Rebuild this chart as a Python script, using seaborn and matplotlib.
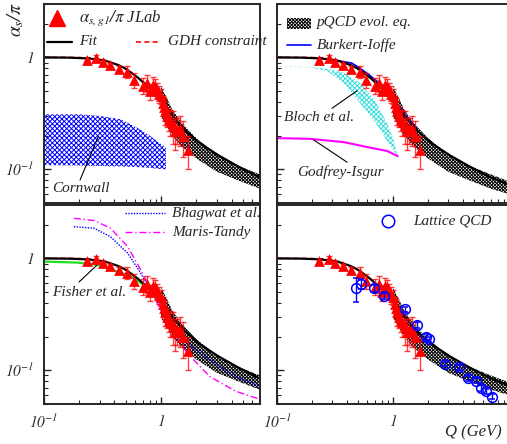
import numpy as np
import pandas as pd
import matplotlib
matplotlib.use("Agg")
import matplotlib.pyplot as plt
from matplotlib.patches import Rectangle
from matplotlib.ticker import LogLocator, NullFormatter
import seaborn as sns

# JLab alpha_s,g1 / pi
jlab_q = [0.232, 0.279, 0.318, 0.368, 0.434, 0.516, 0.589, 0.704, 0.76, 0.80, 0.855, 0.883,
          0.92, 0.96, 1.00, 1.03, 1.06, 1.08, 1.12, 1.16, 1.20, 1.27, 1.31, 1.38, 1.45, 1.55, 1.71]
jlab_a = [0.94, 0.99, 0.91, 0.86, 0.79, 0.74, 0.63, 0.56, 0.59, 0.50, 0.57, 0.55,
          0.51, 0.47, 0.45, 0.39, 0.36, 0.33, 0.30, 0.28, 0.27, 0.25, 0.22, 0.23, 0.23, 0.20, 0.15]
jlab_err = [0.02, 0.05, 0.03, 0.04, 0.05, 0.09, 0.10, 0.09, 0.10, 0.08, 0.10, 0.09,
            0.08, 0.08, 0.07, 0.06, 0.07, 0.08, 0.06, 0.06, 0.07, 0.08, 0.07, 0.06, 0.07, 0.07, 0.05]

# fit
fit_q = [0.1, 0.16, 0.236, 0.329, 0.428, 0.49, 0.559, 0.637, 0.727, 0.83, 0.947, 1.08,
         1.236, 1.41, 1.61, 2.09, 2.55, 3.1, 4.64, 6.9, 10.0]
fit_a = [1.0, 0.995, 0.98, 0.94, 0.857, 0.80, 0.727, 0.656, 0.58, 0.505, 0.432, 0.367,
         0.307, 0.26, 0.222, 0.175, 0.152, 0.133, 0.105, 0.085, 0.073]

# GDH constraint
gdh_q = [0.1, 0.18, 0.25]
gdh_a = [1.0, 1.0, 0.99]

# pQCD evolution band
pqcd_q = [1.0, 1.1, 1.25, 1.5, 2.0, 3.0, 4.5, 7.0, 10.0]
pqcd_lo = [0.30, 0.25, 0.20, 0.16, 0.125, 0.095, 0.08, 0.067, 0.06]
pqcd_hi = [0.55, 0.45, 0.34, 0.26, 0.19, 0.135, 0.108, 0.09, 0.078]

# Cornwall band
corn_q = [0.1, 0.2, 0.3, 0.45, 0.58, 0.7, 0.81, 0.95, 1.1]
corn_hi = [0.31, 0.31, 0.30, 0.28, 0.245, 0.22, 0.198, 0.175, 0.157]
corn_lo = [0.109, 0.108, 0.107, 0.106, 0.105, 0.104, 0.103, 0.101, 0.100]

# Bloch et al. band
bloch_q = [0.1, 0.194, 0.27, 0.376, 0.52, 0.69, 0.887, 1.0, 1.1]
bloch_hi = [0.836, 0.82, 0.79, 0.73, 0.59, 0.42, 0.26, 0.19, 0.13]
bloch_lo = [0.83, 0.815, 0.755, 0.59, 0.39, 0.27, 0.18, 0.15, 0.13]

# Godfrey-Isgur
gi_q = [0.1, 0.194, 0.376, 0.637, 0.887, 1.1]
gi_a = [0.19, 0.187, 0.175, 0.156, 0.146, 0.131]

# Burkert-Ioffe
bi_q = [0.3, 0.44, 0.52, 0.62, 0.73, 0.83, 1.0, 1.3, 1.6]
bi_a = [0.95, 0.89, 0.80, 0.70, 0.61, 0.53, 0.43, 0.30, 0.23]

# Fisher et al.
fi_q = [0.1, 0.193, 0.286, 0.425, 0.588, 0.82, 1.03]
fi_a = [0.936, 0.917, 0.875, 0.76, 0.665, 0.52, 0.426]

# Bhagwat et al.
bh_q = [0.18, 0.268, 0.37, 0.52, 0.67, 0.87, 1.12, 1.68, 2.6, 4.34, 7.0]
bh_a = [1.92, 1.86, 1.56, 1.11, 0.74, 0.456, 0.30, 0.175, 0.124, 0.088, 0.072]

# Maris-Tandy
mt_q = [0.18, 0.268, 0.37, 0.52, 0.67, 0.87, 1.12, 1.68, 2.6, 4.34, 7.0]
mt_a = [2.28, 2.18, 1.86, 1.27, 0.79, 0.456, 0.27, 0.142, 0.088, 0.065, 0.055]

# Lattice QCD
lat_q = [0.48, 0.533, 0.682, 0.84, 1.276, 1.61, 1.92, 2.03, 2.83, 3.68, 4.43, 5.22, 5.74, 6.37, 7.13]
lat_a = [0.54, 0.59, 0.54, 0.46, 0.35, 0.255, 0.20, 0.19, 0.115, 0.106, 0.085, 0.081, 0.07, 0.065, 0.058]
lat_err = [0.13, 0.06, 0.04, 0.03, 0.02, 0.015, 0.012, 0.01, 0.006, 0.005, 0.004, 0.004, 0.004, 0.003, 0.003]

sns.set_style("ticks")
plt.rcParams["font.family"] = ["Liberation Serif", "DejaVu Serif"]
plt.rcParams["font.style"] = "italic"
plt.rcParams["mathtext.fontset"] = "stix"
plt.rcParams["hatch.linewidth"] = 0.7

FS = 11
fig = plt.figure(figsize=(5.07, 4.44), dpi=100)
ax_tl = fig.add_axes([0.0868, 0.5428, 0.426, 0.4482])
ax_tr = fig.add_axes([0.5464, 0.5428, 0.4576, 0.4482])
ax_bl = fig.add_axes([0.0868, 0.0901, 0.426, 0.4482])
ax_br = fig.add_axes([0.5464, 0.0901, 0.4576, 0.4482])


def style(ax, xmax, xlab, ylab):
    ax.set_xscale("log")
    ax.set_yscale("log")
    ax.set_xlim(0.1, xmax)
    ax.set_ylim(0.05, 3.0)
    ax.set_xticks([0.1, 1])
    ax.set_yticks([0.1, 1])
    ax.xaxis.set_minor_locator(LogLocator(subs=np.arange(2, 10)))
    ax.yaxis.set_minor_locator(LogLocator(subs=np.arange(2, 10)))
    ax.xaxis.set_minor_formatter(NullFormatter())
    ax.yaxis.set_minor_formatter(NullFormatter())
    ax.set_xticklabels([r"$\mathit{10^{-1}}$", r"$\mathit{1}$"] if xlab else [])
    ax.set_yticklabels([r"$\mathit{10^{-1}}$", r"$\mathit{1}$"] if ylab else [])
    ax.tick_params(which="major", direction="in", length=5, width=1, labelsize=FS, pad=7)
    ax.tick_params(which="minor", direction="in", length=3, width=0.8)
    for s in ax.spines.values():
        s.set_linewidth(1.4)
    ax.set_xlabel("")
    ax.set_ylabel("")


def band(ax, q, lo, hi, color, hatch="xxxxxx"):
    ax.fill_between(q, lo, hi, facecolor="none", edgecolor=color, hatch=hatch, linewidth=0)


def line(ax, q, a, color, lw=1.2, ls="-"):
    sns.lineplot(x=q, y=a, ax=ax, color=color, lw=lw, linestyle=ls, sort=False,
                 estimator=None)


def common(ax):
    band(ax, pqcd_q, pqcd_lo, pqcd_hi, "black", "xxxxxxxxxx")
    line(ax, gdh_q, gdh_a, "red", 1.2, (0, (3, 2)))
    line(ax, fit_q, fit_a, "black", 1.6)
    ax.errorbar(jlab_q, jlab_a, yerr=jlab_err, fmt="none", ecolor="red", alpha=0.75,
                elinewidth=1, capsize=2.5)
    sns.scatterplot(x=jlab_q, y=jlab_a, ax=ax, marker="^", color="red", s=60,
                    edgecolor="red", linewidth=0, zorder=5)


def pointer(ax, p0, p1):
    ax.plot([p0[0], p1[0]], [p0[1], p1[1]], color="black", lw=0.8, transform=ax.transAxes)


# top left
band(ax_tl, corn_q, corn_lo, corn_hi, "blue", "xxxxxxx")
common(ax_tl)
style(ax_tl, 7.0, False, True)
ax_tl.plot([0.06], [0.93], marker="^", ms=11, color="red", transform=ax_tl.transAxes)
ax_tl.text(0.162, 0.93, r"$\alpha_{s,g1}/\pi$ JLab", transform=ax_tl.transAxes,
           fontsize=FS + 1, va="center")
ax_tl.plot([0.014, 0.13], [0.81, 0.81], color="black", lw=1.6, transform=ax_tl.transAxes)
ax_tl.text(0.162, 0.81, "Fit", transform=ax_tl.transAxes, fontsize=FS, va="center")
ax_tl.plot([0.426, 0.542], [0.81, 0.81], color="red", lw=1.2, ls=(0, (3, 2)),
           transform=ax_tl.transAxes)
ax_tl.text(0.574, 0.81, "GDH constraint", transform=ax_tl.transAxes, fontsize=FS, va="center")
ax_tl.text(0.037, 0.075, "Cornwall", transform=ax_tl.transAxes, fontsize=FS, va="center")
pointer(ax_tl, (0.167, 0.116), (0.251, 0.333))

# top right
band(ax_tr, bloch_q, bloch_lo, bloch_hi, "#33dddd", "xxxxxxx")
line(ax_tr, gi_q, gi_a, "magenta", 1.5)
line(ax_tr, bi_q, bi_a, "blue", 1.2)
common(ax_tr)
style(ax_tr, 10.0, False, False)
ax_tr.add_patch(Rectangle((0.043, 0.874), 0.104, 0.056, transform=ax_tr.transAxes,
                          facecolor="none", edgecolor="black", hatch="xxxxxxxxxx", lw=0))
ax_tr.text(0.172, 0.905, "pQCD evol. eq.", transform=ax_tr.transAxes, fontsize=FS, va="center")
ax_tr.plot([0.043, 0.147], [0.795, 0.795], color="blue", lw=1.2, transform=ax_tr.transAxes)
ax_tr.text(0.172, 0.795, "Burkert-Ioffe", transform=ax_tr.transAxes, fontsize=FS, va="center")
ax_tr.text(0.03, 0.432, "Bloch et al.", transform=ax_tr.transAxes, fontsize=FS, va="center")
pointer(ax_tr, (0.237, 0.476), (0.345, 0.564))
ax_tr.text(0.086, 0.156, "Godfrey-Isgur", transform=ax_tr.transAxes, fontsize=FS, va="center")
pointer(ax_tr, (0.158, 0.317), (0.302, 0.205))

# bottom left
line(ax_bl, fi_q, fi_a, "#22dd22", 1.6)
line(ax_bl, bh_q, bh_a, "blue", 1.0, (0, (1, 1)))
line(ax_bl, mt_q, mt_a, "magenta", 1.0, (0, (5, 2, 1, 2)))
common(ax_bl)
style(ax_bl, 7.0, True, True)
ax_bl.plot([0.375, 0.56], [0.958, 0.958], color="blue", lw=1.0, ls=(0, (1, 1)),
           transform=ax_bl.transAxes)
ax_bl.text(0.593, 0.958, "Bhagwat et al.", transform=ax_bl.transAxes, fontsize=FS, va="center")
ax_bl.plot([0.375, 0.56], [0.863, 0.863], color="magenta", lw=1.0, ls=(0, (5, 2, 1, 2)),
           transform=ax_bl.transAxes)
ax_bl.text(0.593, 0.863, "Maris-Tandy", transform=ax_bl.transAxes, fontsize=FS, va="center")
ax_bl.text(0.037, 0.558, "Fisher et al.", transform=ax_bl.transAxes, fontsize=FS, va="center")
pointer(ax_bl, (0.162, 0.613), (0.245, 0.698))

# bottom right
common(ax_br)
ax_br.errorbar(lat_q, lat_a, yerr=lat_err, fmt="o", mfc="none", mec="blue", ecolor="blue",
               ms=7, mew=1.1, elinewidth=1, capsize=2.5, zorder=6)
style(ax_br, 10.0, True, False)
ax_br.plot([0.48], [0.92], marker="o", ms=9, mfc="none", mec="blue", mew=1.1,
           transform=ax_br.transAxes)
ax_br.text(0.586, 0.92, "Lattice QCD", transform=ax_br.transAxes, fontsize=FS, va="center")

fig.text(0.03, 0.995, r"$\alpha_s/\pi$", rotation=90, fontsize=14, ha="center", va="top")
fig.text(0.878, 0.027, "Q (GeV)", fontsize=12, ha="left", va="center")

fig.savefig("out.png", dpi=100)
